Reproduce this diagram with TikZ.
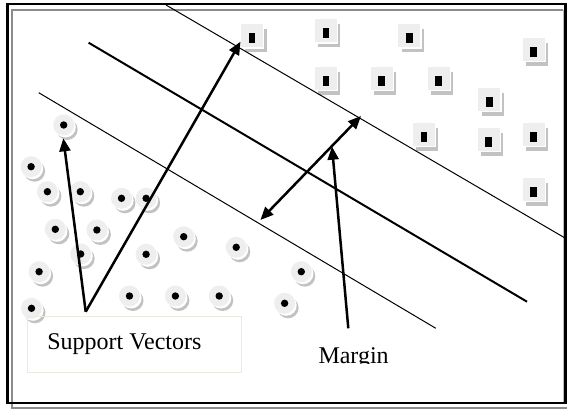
\documentclass[tikz,border=0pt]{standalone}
\usepackage{fontspec}
\setmainfont{Liberation Serif}
\usetikzlibrary{arrows.meta,shadows}
\definecolor{lightfill}{HTML}{EEEEEE}
\definecolor{shadowgray}{HTML}{C2C2C2}
\definecolor{framegray}{HTML}{8C8C8C}
\definecolor{boxline}{HTML}{EAEAE0}
\begin{document}
\begin{tikzpicture}[x=1pt,y=-1pt,
  circ/.style={circle, minimum size=21pt, inner sep=0pt, fill=lightfill,
    general shadow={shadow xshift=3.5pt, shadow yshift=-4.5pt, fill=shadowgray},
    general shadow={shadow xshift=1.6pt, shadow yshift=-2pt, fill=white}},
  sq/.style={rectangle, minimum width=22pt, minimum height=23pt, inner sep=0pt, fill=lightfill,
    general shadow={shadow xshift=3.5pt, shadow yshift=-5pt, fill=shadowgray},
    general shadow={shadow xshift=1.2pt, shadow yshift=-1.5pt, fill=white}},
  arr/.style={line width=2.5pt, -{Triangle[length=13pt,width=11pt]}},
  darr/.style={line width=2.5pt, {Triangle[length=13pt,width=11pt]}-{Triangle[length=13pt,width=11pt]}},
  thinline/.style={line width=1pt},
  midline/.style={line width=2pt},
  lbl/.style={font=\fontsize{24pt}{28pt}\selectfont, inner sep=0pt}
]
\useasboundingbox (0,0) rectangle (567,409);
\fill[white] (0,0) rectangle (567,409);
% frame
\draw[framegray, line width=2.3pt] (12,408) -- (12,9.7) -- (563.3,9.7);
\draw[framegray, line width=2.3pt] (10.9,407.8) -- (567,407.8);
\draw[framegray!60, line width=0.7pt] (563.3,9.7) -- (563.3,402);
\draw[line width=2.5pt] (7.3,4) rectangle (565.5,403);

% class -1 (circles)
\node[circ] (c1) at (63.7,125) {};
\node[circ] (c2) at (31.1,166.7) {};
\node[circ] (c3) at (47.4,191.7) {};
\node[circ] (c4) at (80.3,191.7) {};
\node[circ] (c5) at (121.5,198.3) {};
\node[circ] (c6) at (146.1,198.3) {};
\node[circ] (c7) at (55.3,229.3) {};
\node[circ] (c8) at (96.9,230) {};
\node[circ] (c9) at (183.7,236.7) {};
\node[circ] (c10) at (80.7,254) {};
\node[circ] (c11) at (146.1,254.3) {};
\node[circ] (c12) at (236.2,247.3) {};
\node[circ] (c13) at (39.1,271.7) {};
\node[circ] (c14) at (301.3,271.7) {};
\node[circ] (c15) at (129.5,296) {};
\node[circ] (c16) at (175.4,296) {};
\node[circ] (c17) at (219.2,296) {};
\node[circ] (c18) at (284.6,303.3) {};
\node[circ] (c19) at (31.5,308.3) {};
\foreach \i in {1,...,19} \fill (c\i.center) circle (3.7pt);

% class +1 (squares)
\node[sq] (s1) at (252,35.8) {};
\node[sq] (s2) at (325.9,30.8) {};
\node[sq] (s3) at (409.4,35.8) {};
\node[sq] (s4) at (533.5,49.2) {};
\node[sq] (s5) at (325.9,78.2) {};
\node[sq] (s6) at (381.6,78.2) {};
\node[sq] (s7) at (438.7,78.2) {};
\node[sq] (s8) at (489.3,99.2) {};
\node[sq] (s9) at (423.9,134.2) {};
\node[sq] (s10) at (488.6,139.2) {};
\node[sq] (s11) at (533.5,134.2) {};
\node[sq] (s12) at (533.5,189.2) {};
\foreach \i in {1,...,12} \fill ([shift={(-3.4pt,-7.6pt)}]s\i.center) rectangle ++(6.8pt,10.2pt);

% hyperplanes
\coordinate (l1a) at (166,5);
\coordinate (l1b) at (565,238);
\coordinate (l2a) at (88.6,42.7);
\coordinate (l2b) at (527,301.7);
\coordinate (l3a) at (38.7,92.7);
\coordinate (l3b) at (435.8,328.3);
\draw[thinline] (l1a) -- (l1b);
\draw[midline] (l2a) -- (l2b);
\draw[thinline] (l3a) -- (l3b);

% support vectors label
\node[draw=boxline, line width=0.6pt, minimum width=214.4pt, minimum height=56.7pt, inner sep=0pt] (svbox) at (134.5,344.35) {};
\node[lbl, anchor=base west] (svtext) at (47.2,349) {Support Vectors};
\coordinate (svp) at (85.7,311.7);
\coordinate (tA) at (63.3,138.3);
\coordinate (tB) at (240.5,41.7);
\draw[arr] (svp) -- (tA);
\draw[arr] (svp) -- (tB);

% margin
\coordinate (m1) at (260.4,220);
\coordinate (m2) at (361,116);
\draw[darr] (m1) -- (m2);
\coordinate (mstart) at (348.3,328.3);
\coordinate (mtip) at (332,146.7);
\draw[arr] (mstart) -- (mtip);
\begin{scope}
\clip (300,330) rectangle (420,363.6);
\node[lbl, anchor=base west] (mg) at (318.3,363.3) {Margin};
\end{scope}
\end{tikzpicture}
\end{document}
